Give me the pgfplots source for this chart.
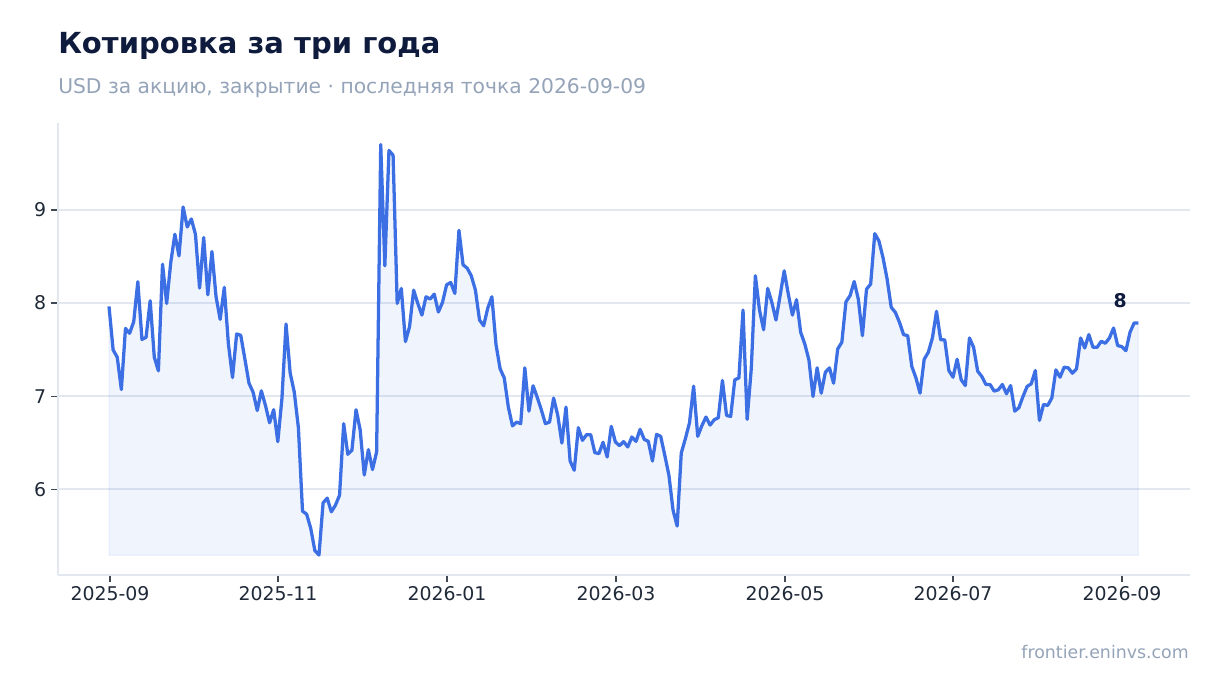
\documentclass[border=0pt]{standalone}
\usepackage{fontspec}
\setmainfont{DejaVu Sans}
\usepackage{pgfplots}
\usepackage{pgfplotstable}
\pgfplotsset{compat=1.18}

\definecolor{linec}{HTML}{3B6FE3}
\definecolor{gridc}{HTML}{E3E8F0}
\definecolor{titlec}{HTML}{0F1B3D}
\definecolor{subc}{HTML}{94A3B8}
\definecolor{tickc}{HTML}{1F2937}

% daily close, one row per trading day, 2025-09-01 .. 2026-09-09
\pgfplotstableread{
v
7.964
7.497
7.418
7.071
7.728
7.675
7.800
8.229
7.610
7.632
8.025
7.418
7.272
8.418
7.996
8.436
8.739
8.507
9.032
8.818
8.904
8.739
8.161
8.704
8.089
8.554
8.068
7.825
8.168
7.561
7.200
7.668
7.654
7.400
7.139
7.043
6.846
7.057
6.900
6.714
6.854
6.511
6.972
7.775
7.250
7.043
6.661
5.764
5.732
5.579
5.340
5.293
5.853
5.904
5.757
5.828
5.936
6.704
6.375
6.418
6.854
6.639
6.153
6.425
6.211
6.400
9.704
8.400
9.640
9.589
7.996
8.157
7.586
7.746
8.139
7.996
7.871
8.068
8.043
8.096
7.904
8.007
8.196
8.221
8.104
8.782
8.411
8.375
8.293
8.139
7.818
7.757
7.946
8.068
7.554
7.293
7.196
6.882
6.680
6.721
6.704
7.304
6.839
7.111
6.989
6.854
6.704
6.721
6.979
6.793
6.496
6.882
6.303
6.204
6.661
6.525
6.586
6.586
6.393
6.382
6.504
6.346
6.675
6.507
6.468
6.511
6.454
6.561
6.514
6.643
6.536
6.514
6.303
6.589
6.568
6.364
6.150
5.775
5.604
6.389
6.543
6.714
7.107
6.568
6.682
6.775
6.689
6.746
6.768
7.168
6.793
6.782
7.175
7.196
7.925
6.750
7.293
8.293
7.925
7.714
8.157
8.007
7.818
8.079
8.346
8.096
7.871
8.036
7.686
7.561
7.390
6.996
7.304
7.032
7.257
7.304
7.139
7.507
7.579
8.014
8.079
8.232
8.043
7.650
8.150
8.204
8.746
8.668
8.489
8.257
7.954
7.900
7.793
7.661
7.650
7.318
7.196
7.032
7.396
7.471
7.625
7.911
7.607
7.604
7.275
7.204
7.396
7.175
7.114
7.625
7.525
7.268
7.211
7.125
7.125
7.054
7.068
7.125
7.025
7.114
6.839
6.875
6.996
7.104
7.132
7.275
6.739
6.911
6.900
6.979
7.282
7.204
7.311
7.304
7.246
7.293
7.625
7.518
7.661
7.525
7.525
7.589
7.568
7.625
7.732
7.543
7.532
7.489
7.686
7.786
7.786
}\pricetab

\begin{document}
\begin{tikzpicture}
\path (0,0) rectangle (878.4pt,498.96pt);

\node[anchor=base west, inner sep=0, text=titlec,
      font=\bfseries\fontsize{20.9pt}{25pt}\selectfont] at (41.76pt,460.58pt) {Котировка за три года};
\node[anchor=base west, inner sep=0, text=subc,
      font=\fontsize{14.6pt}{17pt}\selectfont] at (41.76pt,431.78pt) {USD за акцию, закрытие · последняя точка 2026-09-09};
\node[anchor=base east, inner sep=0, text=subc,
      font=\fontsize{12.5pt}{15pt}\selectfont] at (856.08pt,25.2pt) {frontier.eninvs.com};

\begin{axis}[
    at={(41.76pt,84.96pt)}, anchor=south west,
    width=815.04pt, height=325.44pt, scale only axis,
    xmin=-12.39, xmax=262.57,
    ymin=5.078, ymax=9.935,
    axis x line*=bottom, axis y line*=left,
    axis line style={draw=gridc, line width=1.1pt},
    xtick={0.24,41.05,82.1,123.15,164.2,205.0,246.05},
    xticklabels={2025-09,2025-11,2026-01,2026-03,2026-05,2026-07,2026-09},
    ytick={6,7,8,9},
    ymajorgrids,
    grid style={draw=gridc, line width=1.1pt},
    tick style={draw=tickc!85, line width=0.9pt},
    major tick length=5pt, tick align=outside,
    ticklabel style={font=\fontsize{13.6pt}{16pt}\selectfont, text=tickc},
    /pgf/number format/assume math mode=true,
]
  \addplot[fill=linec, fill opacity=0.08, draw=linec, draw opacity=0.08, line width=1pt, forget plot]
    table[x expr=\coordindex, y=v] {\pricetab} -- (axis cs:250,5.29) -- (axis cs:0,5.29) -- cycle;
  \addplot[linec, line width=2.35pt, line join=round, mark=none]
    table[x expr=\coordindex, y=v] {\pricetab};
  \node[text=titlec, font=\bfseries\fontsize{13.6pt}{16pt}\selectfont] at (axis cs:245.6,8.025) {8};
\end{axis}
\end{tikzpicture}
\end{document}
